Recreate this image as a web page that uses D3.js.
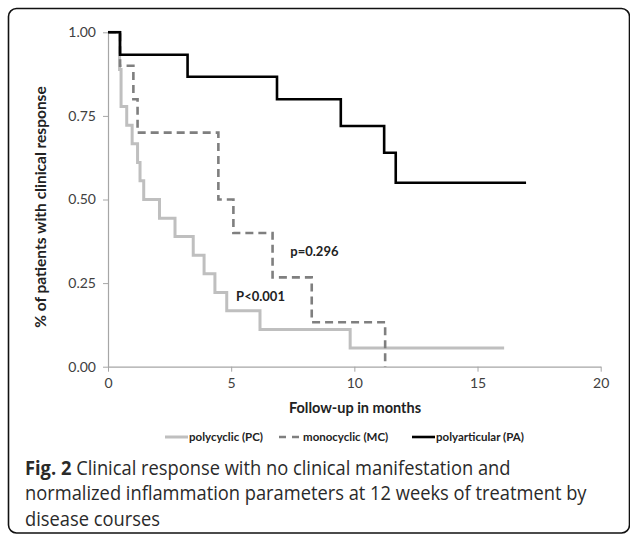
<!DOCTYPE html>
<html>
<head>
<meta charset="utf-8">
<script src="https://cdn.jsdelivr.net/npm/d3@7"></script>
<style>
  body { margin: 0; background: #fff; }
  svg { display: block; }
  .tick text { font-family: Lato, "Open Sans", sans-serif; font-size: 14px; fill: #404040; }
  .axis path, .axis line { stroke: #a6a6a6; }
  .ttl { font-family: Lato, "Open Sans", sans-serif; font-weight: bold; font-size: 14.5px; fill: #222; }
  .leg { font-family: Lato, "Open Sans", sans-serif; font-weight: bold; font-size: 11.5px; fill: #222; }
  .cap { font-family: "Open Sans", sans-serif; font-size: 20px; fill: #2a2a2a; }
</style>
</head>
<body>
<div id="chart"></div>
<script>
// Kaplan-Meier style step data (months, fraction responding)
var pcTimes  = [0, 0.47, 0.53, 0.76, 0.98, 1.2, 1.3, 1.45, 2.09, 2.72, 3.46, 3.9, 4.34, 4.82, 6.17, 9.83, 16.08];
var pcValues = [1, 0.889, 0.778, 0.722, 0.667, 0.611, 0.556, 0.5, 0.444, 0.389, 0.333, 0.278, 0.222, 0.167, 0.111, 0.056, 0.056];

var mcTimes  = [0, 0.49, 1.03, 1.2, 4.48, 5.09, 6.68, 8.27, 11.25];
var mcValues = [1, 0.9, 0.8, 0.7, 0.5, 0.4, 0.267, 0.133, 0];

var paTimes  = [0, 0.49, 3.23, 6.86, 9.45, 11.21, 11.68, 16.97];
var paValues = [1, 0.933, 0.867, 0.8, 0.72, 0.64, 0.55, 0.55];

var xTicks = [0, 5, 10, 15, 20];
var yTicks = [0, 0.25, 0.5, 0.75, 1];

var seriesNames = ["polycyclic (PC)", "monocyclic (MC)", "polyarticular (PA)"];
var pValues = [{label: "p=0.296", t: 7.4, v: 0.33}, {label: "P<0.001", t: 5.2, v: 0.195}];

var captionLines = [
    "Clinical response with no clinical manifestation and",
    "normalized inflammation parameters at 12 weeks of treatment by",
    "disease courses"
];

var W = 630, H = 541;

var svg = d3.select("#chart").append("svg")
    .attr("width", W)
    .attr("height", H);

// frame round the figure
svg.append("rect")
    .attr("x", 8.5).attr("y", 8.5)
    .attr("width", 621).attr("height", 524.5)
    .attr("rx", 8).attr("ry", 8)
    .attr("fill", "none")
    .attr("stroke", "#111")
    .attr("stroke-width", 1.6);

var x = d3.scaleLinear().domain([0, 20]).range([108, 600.7]);
var y = d3.scaleLinear().domain([0, 1]).range([366.7, 32.3]);

svg.append("g")
    .attr("class", "axis")
    .attr("transform", "translate(0," + y(0) + ")")
    .call(d3.axisBottom(x).tickValues(xTicks).tickSize(5).tickSizeOuter(0).tickPadding(6));

svg.append("g")
    .attr("class", "axis")
    .attr("transform", "translate(" + x(0) + ",0)")
    .call(d3.axisLeft(y).tickValues(yTicks).tickFormat(d3.format(".2f")).tickSize(5).tickSizeOuter(0).tickPadding(7));

svg.selectAll(".axis .domain").attr("stroke-width", 1.2);

var line = d3.line()
    .x(function(d){ return x(d[0]); })
    .y(function(d){ return y(d[1]); })
    .curve(d3.curveStepAfter);

function zipData(ts, vs){
    return ts.map(function(t, i){ return [t, vs[i]]; });
}

var series = [
    {data: zipData(pcTimes, pcValues), color: "#bfbfbf", width: 3, dash: null},
    {data: zipData(mcTimes, mcValues), color: "#7f7f7f", width: 2.6, dash: "8,5"},
    {data: zipData(paTimes, paValues), color: "#000", width: 2.6, dash: null}
];

series.forEach(function(s){
    svg.append("path")
        .datum(s.data)
        .attr("d", line)
        .attr("fill", "none")
        .attr("stroke", s.color)
        .attr("stroke-width", s.width)
        .attr("stroke-dasharray", s.dash);
});

// p-value labels
svg.selectAll("text.pval").data(pValues)
    .enter().append("text")
    .attr("class", "ttl pval")
    .attr("x", function(d){ return x(d.t); })
    .attr("y", function(d){ return y(d.v); })
    .style("font-size", "13px")
    .text(function(d){ return d.label; });

// axis titles
svg.append("text")
    .attr("class", "ttl")
    .attr("x", 355).attr("y", 413)
    .attr("text-anchor", "middle")
    .text("Follow-up in months");

svg.append("text")
    .attr("class", "ttl")
    .attr("transform", "translate(46,207) rotate(-90)")
    .attr("text-anchor", "middle")
    .style("font-size", "15.5px")
    .text("% of patients with clinical response");

// legend
var legX = [165, 279, 412];
var leg = svg.selectAll("g.legItem").data(seriesNames)
    .enter().append("g")
    .attr("class", "legItem")
    .attr("transform", function(d, i){ return "translate(" + legX[i] + ",441)"; });

leg.append("line")
    .attr("x1", 0).attr("x2", 23)
    .attr("y1", -4).attr("y2", -4)
    .attr("stroke", function(d, i){ return series[i].color; })
    .attr("stroke-width", function(d, i){ return series[i].width; })
    .attr("stroke-dasharray", function(d, i){ return series[i].dash ? "7,6" : null; });

leg.append("text")
    .attr("class", "leg")
    .attr("x", 24)
    .text(function(d){ return d; });

// caption, squeezed horizontally so the longest line is ~562px wide like the figure
var capG = svg.append("g");

var cap = capG.append("text")
    .attr("class", "cap")
    .attr("x", 0).attr("y", 475);
cap.append("tspan").style("font-weight", "bold").text("Fig. 2");
cap.append("tspan").text(" " + captionLines[0]);

var capLines = capG.selectAll("text.capLine").data(captionLines.slice(1))
    .enter().append("text")
    .attr("class", "cap capLine")
    .attr("x", 0)
    .attr("y", function(d, i){ return 500.5 + i * 26; })
    .text(function(d){ return d; });

var longest = capLines.nodes()[0].getComputedTextLength();
capG.attr("transform", "translate(25,0) scale(" + (562 / longest) + ",1)");
</script>
</body>
</html>
